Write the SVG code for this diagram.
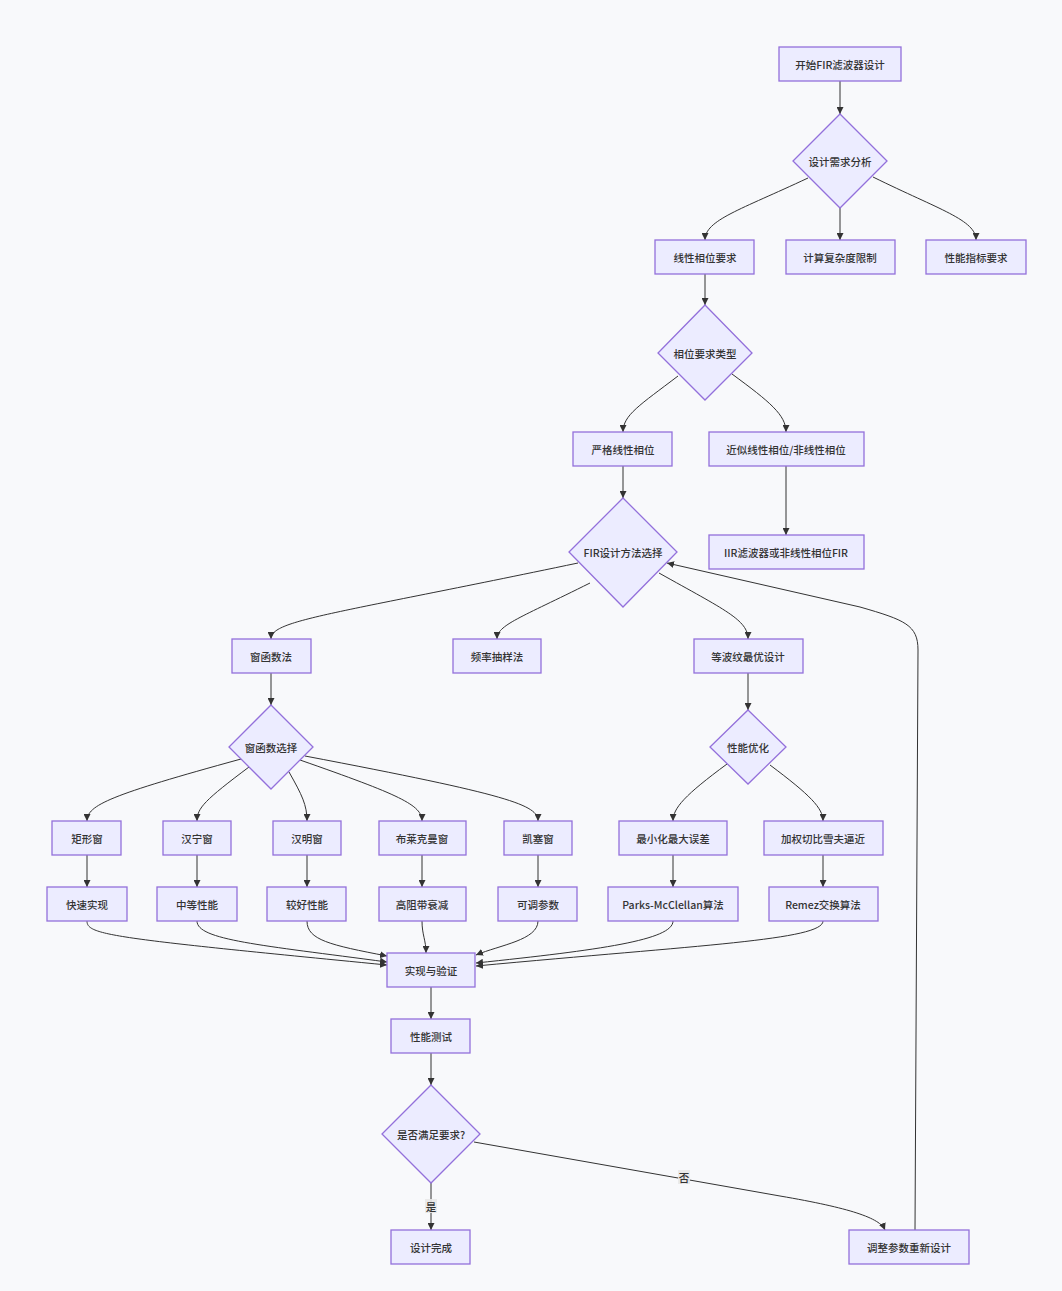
<svg xmlns="http://www.w3.org/2000/svg" width="1062" height="1291" viewBox="0 0 1062 1291">
<style>
.n rect,.n polygon{fill:#ECECFF;stroke:#9370DB;stroke-width:1.3}
.n text,.lbl text{font-family:"Noto Sans CJK SC","Noto Sans",sans-serif;font-size:10.5px;font-weight:500;fill:#333;text-anchor:middle;dominant-baseline:central}
.e path{fill:none;stroke:#333;stroke-width:1;marker-end:url(#arr)}
.lbl rect{fill:#e8e8e8;opacity:0.9}
</style>
<defs>
<marker id="arr" viewBox="0 0 10 10" refX="10" refY="5" markerWidth="7" markerHeight="7" markerUnits="userSpaceOnUse" orient="auto">
<path d="M0,0 L10,5 L0,10 z" fill="#333"/>
</marker>
</defs>
<rect width="1062" height="1291" fill="#f8f9fb"/>
<g id="edges" class="e">
<path d="M840,81 L840,114"/>
<path d="M808,178 C740,210 705,220 705,240"/>
<path d="M840,208 L840,240"/>
<path d="M873,177 C940,210 976,220 976,240"/>
<path d="M705,274 L705,305"/>
<path d="M678,376 C640,405 623,415 623,432"/>
<path d="M732,374 C770,402 786,415 786,432"/>
<path d="M623,466 L623,498"/>
<path d="M786,466 L786,535"/>
<path d="M578,563 C330,615 271,620 271,639"/>
<path d="M590,583 C520,618 497,625 497,639"/>
<path d="M659,573 C725,610 748,620 748,639"/>
<path d="M271,673 L271,705"/>
<path d="M748,673 L748,710"/>
<path d="M241,759 C110,795 87,805 87,821"/>
<path d="M249,767 C205,800 197,808 197,821"/>
<path d="M289,772 C302,795 307,805 307,821"/>
<path d="M300,760 C400,795 422,805 422,821"/>
<path d="M305,756 C510,795 538,805 538,821"/>
<path d="M727,764 C685,795 673,808 673,821"/>
<path d="M770,765 C810,795 823,808 823,821"/>
<path d="M87,855 L87,887"/>
<path d="M197,855 L197,887"/>
<path d="M307,855 L307,887"/>
<path d="M422,855 L422,887"/>
<path d="M538,855 L538,887"/>
<path d="M673,855 L673,887"/>
<path d="M823,855 L823,887"/>
<path d="M87,921 C87,935 110,938 387,965"/>
<path d="M197,921 C197,940 260,945 387,962"/>
<path d="M307,921 C307,940 330,945 387,956"/>
<path d="M422,921 C422,935 426,940 426,953"/>
<path d="M538,921 C538,940 500,945 476,955"/>
<path d="M673,921 C673,940 600,950 476,963"/>
<path d="M823,921 C823,940 700,945 476,966"/>
<path d="M431,987 L431,1019"/>
<path d="M431,1053 L431,1085"/>
<path d="M431,1183 L431,1230"/>
<path d="M474,1142 L780,1196 C850,1208 880,1218 885,1230"/>
<path d="M915,1230 L918,650 C918,625 905,620 860,607 L667,563"/>
</g>
<g class="lbl">
<rect x="425" y="1199" width="12" height="14"/><text x="431" y="1206">是</text>
<rect x="678" y="1170" width="12" height="14"/><text x="684" y="1177">否</text>
</g>
<g id="n1" class="n"><rect x="779" y="47" width="122" height="34"/><text x="840" y="64">开始FIR滤波器设计</text></g>
<g id="n2" class="n"><polygon points="840,114 887,161 840,208 793,161"/><text x="840" y="161">设计需求分析</text></g>
<g id="n3" class="n"><rect x="655" y="240" width="99" height="34"/><text x="705" y="257">线性相位要求</text></g>
<g id="n4" class="n"><rect x="786" y="240" width="109" height="34"/><text x="840" y="257">计算复杂度限制</text></g>
<g id="n5" class="n"><rect x="926" y="240" width="100" height="34"/><text x="976" y="257">性能指标要求</text></g>
<g id="n6" class="n"><polygon points="705,305 752,353 705,400 658,353"/><text x="705" y="353">相位要求类型</text></g>
<g id="n7" class="n"><rect x="573" y="432" width="99" height="34"/><text x="623" y="449">严格线性相位</text></g>
<g id="n8" class="n"><rect x="709" y="432" width="155" height="34"/><text x="786" y="449">近似线性相位/非线性相位</text></g>
<g id="n9" class="n"><rect x="709" y="535" width="155" height="34"/><text x="786" y="552">IIR滤波器或非线性相位FIR</text></g>
<g id="n10" class="n"><polygon points="623,498 677,552 623,607 569,552"/><text x="623" y="552">FIR设计方法选择</text></g>
<g id="n11" class="n"><rect x="232" y="639" width="79" height="34"/><text x="271" y="656">窗函数法</text></g>
<g id="n12" class="n"><rect x="453" y="639" width="88" height="34"/><text x="497" y="656">频率抽样法</text></g>
<g id="n13" class="n"><rect x="694" y="639" width="109" height="34"/><text x="748" y="656">等波纹最优设计</text></g>
<g id="n14" class="n"><polygon points="271,705 313,747 271,789 229,747"/><text x="271" y="747">窗函数选择</text></g>
<g id="n15" class="n"><polygon points="748,710 786,747 748,784 710,747"/><text x="748" y="747">性能优化</text></g>
<g id="n16" class="n"><rect x="52" y="821" width="69" height="34"/><text x="87" y="838">矩形窗</text></g>
<g id="n17" class="n"><rect x="163" y="821" width="68" height="34"/><text x="197" y="838">汉宁窗</text></g>
<g id="n18" class="n"><rect x="273" y="821" width="68" height="34"/><text x="307" y="838">汉明窗</text></g>
<g id="n19" class="n"><rect x="379" y="821" width="87" height="34"/><text x="422" y="838">布莱克曼窗</text></g>
<g id="n20" class="n"><rect x="504" y="821" width="68" height="34"/><text x="538" y="838">凯塞窗</text></g>
<g id="n21" class="n"><rect x="619" y="821" width="108" height="34"/><text x="673" y="838">最小化最大误差</text></g>
<g id="n22" class="n"><rect x="764" y="821" width="119" height="34"/><text x="823" y="838">加权切比雪夫逼近</text></g>
<g id="n23" class="n"><rect x="47" y="887" width="80" height="34"/><text x="87" y="904">快速实现</text></g>
<g id="n24" class="n"><rect x="157" y="887" width="80" height="34"/><text x="197" y="904">中等性能</text></g>
<g id="n25" class="n"><rect x="267" y="887" width="79" height="34"/><text x="307" y="904">较好性能</text></g>
<g id="n26" class="n"><rect x="379" y="887" width="87" height="34"/><text x="422" y="904">高阻带衰减</text></g>
<g id="n27" class="n"><rect x="498" y="887" width="79" height="34"/><text x="538" y="904">可调参数</text></g>
<g id="n28" class="n"><rect x="608" y="887" width="130" height="34"/><text x="673" y="904">Parks-McClellan算法</text></g>
<g id="n29" class="n"><rect x="769" y="887" width="109" height="34"/><text x="823" y="904">Remez交换算法</text></g>
<g id="n30" class="n"><rect x="387" y="953" width="88" height="34"/><text x="431" y="970">实现与验证</text></g>
<g id="n31" class="n"><rect x="391" y="1019" width="79" height="34"/><text x="431" y="1036">性能测试</text></g>
<g id="n32" class="n"><polygon points="431,1085 480,1134 431,1183 382,1134"/><text x="431" y="1134">是否满足要求?</text></g>
<g id="n33" class="n"><rect x="391" y="1230" width="79" height="34"/><text x="431" y="1247">设计完成</text></g>
<g id="n34" class="n"><rect x="849" y="1230" width="120" height="34"/><text x="909" y="1247">调整参数重新设计</text></g>
</svg>
